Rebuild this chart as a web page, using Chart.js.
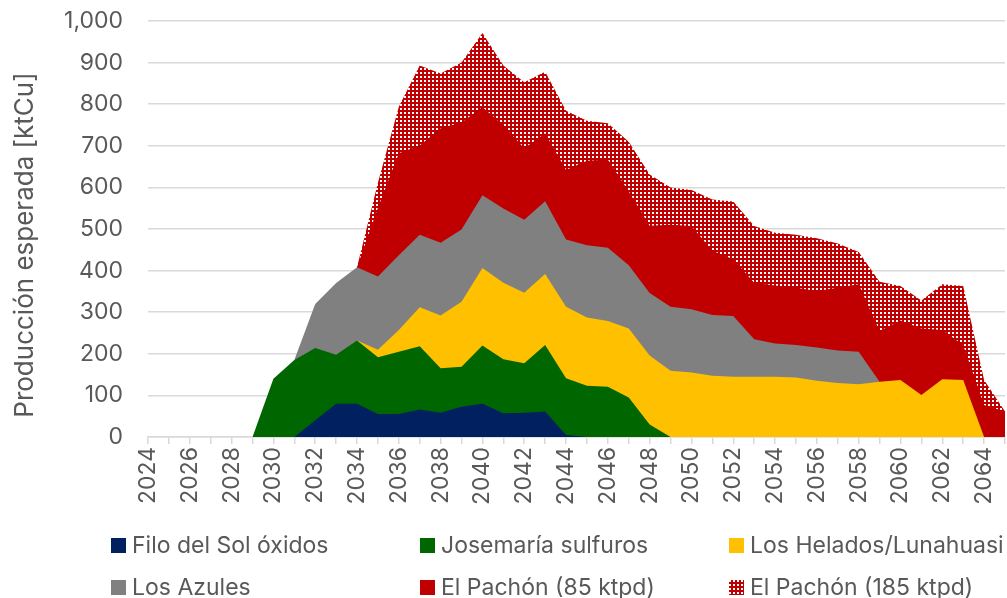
<!DOCTYPE html>
<html>
<head>
<meta charset="utf-8">
<script src="https://cdn.jsdelivr.net/npm/chart.js@4.4.0/dist/chart.umd.min.js"></script>
<style>
  html, body { margin: 0; padding: 0; background: #ffffff; }
  #wrap { position: relative; width: 1007px; height: 598px; overflow: hidden; }
  #c { position: absolute; left: 0; top: 0; }
  .leg { position: absolute; display: flex; align-items: center; white-space: nowrap;
         font-family: Inter, "Noto Sans", sans-serif; font-size: 23px; color: #595959; }
  .leg .box { width: 15px; height: 15px; margin-right: 6px; flex: 0 0 auto; }
</style>
</head>
<body>
<div id="wrap">
  <canvas id="c" width="1007" height="598"></canvas>
</div>
<script>
// ---------------- DATA ----------------
// null = project not producing (outside its ramp-up / ramp-down)
const years = ['2024','2025','2026','2027','2028','2029','2030','2031','2032','2033',
  '2034','2035','2036','2037','2038','2039','2040','2041','2042','2043',
  '2044','2045','2046','2047','2048','2049','2050','2051','2052','2053',
  '2054','2055','2056','2057','2058','2059','2060','2061','2062','2063',
  '2064','2065'];

const filoDelSol = [null,null,null,null,null,null,null,0,40,80,
  80,55,55,66,58,73,80,57,58,61,
  5,0,null,null,null,null,null,null,null,null,
  null,null,null,null,null,null,null,null,null,null,
  null,null];

const josemaria = [null,null,null,null,null,0,140,185,174,118,
  152,137,150,152,107,96,140,130,119,160,
  136,123,121,95,30,0,null,null,null,null,
  null,null,null,null,null,null,null,null,null,null,
  null,null];

const losHelados = [null,null,null,null,null,null,null,null,null,null,
  0,18,52,94,127,156,186,184,170,171,
  172,164,158,166,166,159,155,147,145,145,
  145,143,135,130,127,133,137,101,139,137,
  0,null];

const losAzules = [null,null,null,null,null,null,null,0,106,172,
  176,176,180,174,175,174,175,178,175,175,
  162,174,176,152,150,154,152,146,146,90,
  80,78,80,78,78,0,null,null,null,null,
  null,null];

const pachon85 = [null,null,null,null,null,null,null,null,null,null,
  0,165,245,215,275,257,212,200,172,163,
  167,203,212,177,162,197,200,155,136,136,
  139,138,136,151,162,122,143,160,118,84,
  77,61];

const pachon185 = [null,null,null,null,null,null,null,null,null,null,
  0,60,112,192,132,144,178,144,159,148,
  142,96,87,120,123,90,87,123,139,136,
  127,127,127,106,78,118,83,67,110,142,
  60,0];

const seriesNames = ['Filo del Sol óxidos','Josemaría sulfuros','Los Helados/Lunahuasi',
  'Los Azules','El Pachón (85 ktpd)','El Pachón (185 ktpd)'];
const yTitle = 'Producción esperada [ktCu]';

// ---------------- STYLE ----------------
const FONT = 'Inter, "Noto Sans", sans-serif';
const TXT = '#595959';
const GRID = '#d9d9d9';
const colors = ['#002060', '#006600', '#FFC000', '#808080', '#C00000', '#C00000'];

// dotted pattern for El Pachón (185 ktpd)
const pc = document.createElement('canvas');
pc.width = 4; pc.height = 4;
const pctx = pc.getContext('2d');
pctx.fillStyle = '#C00000'; pctx.fillRect(0, 0, 4, 4);
pctx.fillStyle = '#ffffff'; pctx.fillRect(0, 0, 2, 2);
const ctx = document.getElementById('c').getContext('2d');
const pattern = ctx.createPattern(pc, 'repeat');

const allData = [filoDelSol, josemaria, losHelados, losAzules, pachon85, pachon185];

// each stacked area is filled down to the origin; lower series are drawn on top,
// which avoids seams between neighbouring areas
const datasets = allData.map((d, i) => ({
  label: seriesNames[i],
  data: d,
  backgroundColor: i === 5 ? pattern : colors[i],
  borderColor: 'rgba(0,0,0,0)',
  borderWidth: 0,
  fill: 'origin',
  spanGaps: false,
  pointRadius: 0,
  pointHoverRadius: 0,
  tension: 0
}));

const yTitlePlugin = {
  id: 'yTitle',
  afterDraw(chart) {
    const c = chart.ctx;
    c.save();
    c.translate(33, 245);
    c.rotate(-Math.PI / 2);
    c.font = '26px ' + FONT;
    c.fillStyle = TXT;
    c.textAlign = 'center';
    c.textBaseline = 'alphabetic';
    c.fillText(yTitle, 0, 0);
    c.restore();
  }
};

new Chart(ctx, {
  type: 'line',
  data: { labels: years, datasets },
  plugins: [yTitlePlugin],
  options: {
    responsive: false,
    animation: false,
    events: [],
    layout: { padding: { top: 21, right: 2, left: 0, bottom: 0 } },
    plugins: { legend: { display: false }, tooltip: { enabled: false } },
    scales: {
      x: {
        type: 'category',
        offset: false,
        grid: { display: true, drawOnChartArea: false, drawTicks: true, tickLength: 7, color: GRID, lineWidth: 1.5 },
        border: { display: true, color: GRID, width: 1.5 },
        ticks: {
          autoSkip: false, maxRotation: 90, minRotation: 90, padding: 3,
          color: TXT, font: { family: FONT, size: 23 },
          callback: function (v, idx) { return idx % 2 === 0 ? this.getLabelForValue(v) : ''; }
        },
        afterFit: s => { s.height = 161; s.paddingLeft = 0; s.paddingRight = 0; }
      },
      y: {
        stacked: true,
        min: 0, max: 1000,
        grid: { color: GRID, lineWidth: 1.5, drawTicks: false },
        border: { display: false },
        ticks: {
          stepSize: 100, padding: 25, color: TXT, font: { family: FONT, size: 23 },
          callback: v => v.toLocaleString('en-US')
        },
        afterFit: s => { s.width = 148; s.paddingTop = 0; s.paddingBottom = 0; }
      }
    }
  }
});

// ---------------- HTML LEGEND ----------------
const legPos = [
  [111, 545], [420, 545], [729, 545],
  [111, 587], [420, 587], [729, 587]
];
const wrap = document.getElementById('wrap');
seriesNames.forEach((name, i) => {
  const el = document.createElement('div');
  el.className = 'leg';
  el.style.left = legPos[i][0] + 'px';
  el.style.top = (legPos[i][1] - 13) + 'px';
  el.style.height = '26px';
  const b = document.createElement('span');
  b.className = 'box';
  if (i === 5) {
    b.style.backgroundImage = 'url(' + pc.toDataURL() + ')';
  } else {
    b.style.background = colors[i];
  }
  const t = document.createElement('span');
  t.textContent = name;
  el.appendChild(b); el.appendChild(t);
  wrap.appendChild(el);
});
</script>
</body>
</html>
